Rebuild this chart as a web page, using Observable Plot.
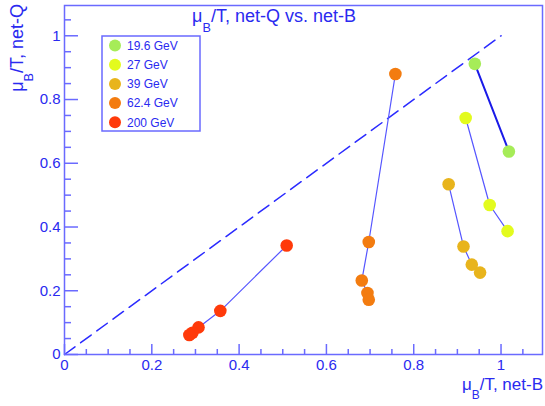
<!DOCTYPE html>
<html><head><meta charset="utf-8">
<script src="https://cdn.jsdelivr.net/npm/d3@7"></script>
<script src="https://cdn.jsdelivr.net/npm/@observablehq/plot@0.6"></script>
<style>body{margin:0;background:#fff} #chart{width:545px;height:406px;position:relative}</style>
</head><body><div id="chart"></div>
<script>
// ---- data ----
const energies = ["19.6 GeV", "27 GeV", "39 GeV", "62.4 GeV", "200 GeV"];
const colors = ["#a6ec58", "#e3fb1e", "#e8b41c", "#f37c10", "#ff3a0a"];
const netB_19 = [0.940, 1.018];
const netQ_19 = [0.912, 0.637];
const netB_27 = [0.919, 0.974, 1.015];
const netQ_27 = [0.742, 0.469, 0.387];
const netB_39 = [0.880, 0.914, 0.933, 0.952];
const netQ_39 = [0.534, 0.339, 0.282, 0.257];
const netB_62 = [0.758, 0.697, 0.681, 0.694, 0.697];
const netQ_62 = [0.880, 0.353, 0.232, 0.193, 0.172];
const netB_200 = [0.509, 0.357, 0.307, 0.293, 0.286];
const netQ_200 = [0.342, 0.137, 0.085, 0.068, 0.061];
const diagX = [0, 1];
const diagY = [0, 1];
const majorTicks = [0, 0.2, 0.4, 0.6, 0.8, 1];
const minorTicks = [0.05, 0.1, 0.15, 0.25, 0.3, 0.35, 0.45, 0.5, 0.55, 0.65, 0.7, 0.75, 0.85, 0.9, 0.95, 1.05];

const seriesX = [netB_19, netB_27, netB_39, netB_62, netB_200];
const seriesY = [netQ_19, netQ_27, netQ_39, netQ_62, netQ_200];
const points = [];
energies.forEach((e, i) => seriesX[i].forEach((x, j) => points.push({energy: e, x, y: seriesY[i][j]})));
const diag = diagX.map((x, i) => ({x, y: diagY[i]}));

const W = 545, H = 406, mL = 64, mR = 3, mT = 5, mB = 52;
const fw = W - mL - mR, fh = H - mT - mB;
const axisCol = "#6a6aff", textCol = "#2a2af0", lineCol = "#5555ff";
const font = "Liberation Sans, Arial, sans-serif";

const plot = Plot.plot({
  width: W, height: H,
  marginLeft: mL, marginRight: mR, marginTop: mT, marginBottom: mB,
  style: {fontFamily: font, background: "#fff", overflow: "visible"},
  x: {domain: [0, 1.095], axis: null},
  y: {domain: [0, 1.095], axis: null},
  color: {domain: energies, range: colors},
  marks: [
    Plot.line(diag, {x: "x", y: "y", stroke: "#2a2aff", strokeWidth: 1.5, strokeDasharray: "13,7"}),
    Plot.line(points.filter(d => d.energy !== energies[0]), {x: "x", y: "y", z: "energy", stroke: lineCol, strokeWidth: 1.2}),
    Plot.line(points.filter(d => d.energy === energies[0]), {x: "x", y: "y", stroke: "#1a1ae8", strokeWidth: 2}),
    Plot.dot(points, {x: "x", y: "y", r: 6.3, fill: "energy", stroke: null}),
    Plot.tickX(majorTicks, {x: d => d, stroke: axisCol, strokeWidth: 1.5, insetTop: fh - 10}),
    Plot.tickX(minorTicks, {x: d => d, stroke: axisCol, strokeWidth: 1.5, insetTop: fh - 5}),
    Plot.tickY(majorTicks, {y: d => d, stroke: axisCol, strokeWidth: 1.5, insetRight: fw - 14}),
    Plot.tickY(minorTicks, {y: d => d, stroke: axisCol, strokeWidth: 1.5, insetRight: fw - 7}),
    Plot.axisX({ticks: majorTicks, tickSize: 0, tickPadding: 5, fontSize: 15, fill: textCol, tickFormat: d => String(d), label: null}),
    Plot.axisY({ticks: majorTicks, tickSize: 0, tickPadding: 4, fontSize: 15, fill: textCol, tickFormat: d => String(d), label: null}),
    Plot.frame({stroke: axisCol, strokeWidth: 1.5})
  ]
});
document.getElementById("chart").appendChild(plot);

const svg = d3.select(plot);
function subText(x, y, base, sub, rest, size, anchor, rotate) {
  const t = svg.append("text")
    .attr("font-family", font).attr("font-size", size).attr("fill", textCol)
    .attr("text-anchor", anchor)
    .attr("transform", `translate(${x},${y})` + (rotate ? ` rotate(${rotate})` : ""));
  t.append("tspan").text(base);
  t.append("tspan").attr("font-size", size * 0.7).attr("dy", size * 0.55).text(sub);
  t.append("tspan").attr("dy", -size * 0.55).text(rest);
}
subText(274, 22, "μ", "B", "/T, net-Q vs. net-B", 18, "middle");
subText(543, 390, "μ", "B", "/T, net-B", 17, "end");
subText(23, 4, "μ", "B", "/T, net-Q", 18, "end", -90);

// legend
const lg = svg.append("g");
lg.append("rect").attr("x", 102).attr("y", 36).attr("width", 98).attr("height", 95)
  .attr("fill", "#fff").attr("stroke", axisCol).attr("stroke-width", 1.5);
energies.forEach((e, i) => {
  const cy = 45.5 + i * 19.2;
  lg.append("circle").attr("cx", 115).attr("cy", cy).attr("r", 6).attr("fill", colors[i]);
  lg.append("text").attr("x", 127).attr("y", cy).attr("dy", "0.35em").attr("text-anchor", "start")
    .attr("font-family", font).attr("font-size", 12).attr("fill", textCol).text(e);
});
</script>
</body></html>
